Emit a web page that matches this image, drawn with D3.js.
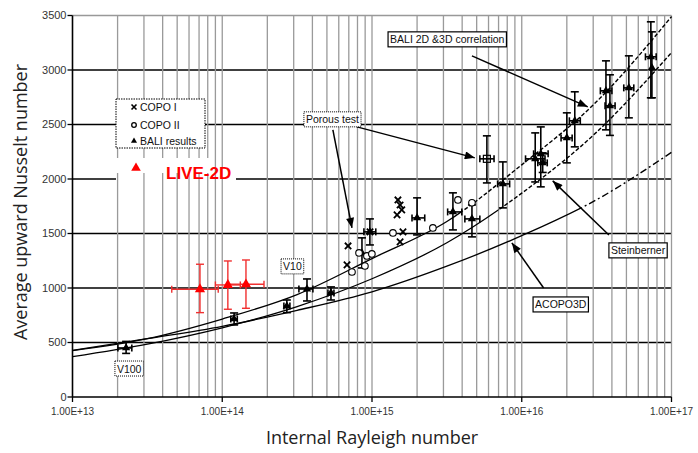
<!DOCTYPE html>
<html><head><meta charset="utf-8">
<script src="https://cdn.jsdelivr.net/npm/d3@7"></script>
<style>body{margin:0;background:#fff} svg{display:block}</style>
</head><body><svg id="c" width="698" height="453"></svg>
<script>
// ---------- data ----------
const xTickValues = [1e13, 1e14, 1e15, 1e16, 1e17];
const xTickLabels = ["1.00E+13", "1.00E+14", "1.00E+15", "1.00E+16", "1.00E+17"];
const yTickValues = [0, 500, 1000, 1500, 2000, 2500, 3000, 3500];

// correlation curves (Ra sampled at half decades)
const curveRa = [1e13, 3.162e13, 1e14, 3.162e14, 1e15, 3.162e15, 1e16, 3.162e16, 1e17];
const baliCorrNu = [425, 535, 715, 940, 1270, 1610, 2130, 2710, 3490];
const steinbernerNu = [370, 485, 635, 830, 1085, 1415, 1870, 2430, 3160];
const acopoNu = [427, 535, 648, 795, 965, 1200, 1480, 1810, 2245];
const baliCorrDashFrom = 4e15, steinDashFrom = 7e15, acopoDashFrom = 2.5e16;

// BALI results (triangles with error bars)
const baliRa   = [2.28e13, 1.20e14, 2.70e14, 3.68e14, 5.32e14, 9.68e14, 8.57e14, 2.0e15, 3.47e15, 4.65e15, 7.48e15, 1.23e16, 1.34e16, 1.38e16, 2.0e16, 2.26e16, 3.65e16, 3.88e16, 5.19e16, 7.28e16, 7.4e16];
const baliRaLo = [2.01e13, 1.14e14, 2.58e14, 3.25e14, 5.08e14, 8.83e14, 8.57e14, 1.85e15, 3.2e15, 4.17e15, 6.9e15, 1.06e16, 1.2e16, 1.28e16, 1.83e16, 2.08e16, 3.35e16, 3.6e16, 4.8e16, 6.7e16, 7.4e16];
const baliRaHi = [2.49e13, 1.26e14, 2.83e14, 4.03e14, 5.57e14, 1.06e15, 8.57e14, 2.25e15, 3.98e15, 5.25e15, 8.3e15, 1.43e16, 1.5e16, 1.48e16, 2.17e16, 2.46e16, 4.0e16, 4.2e16, 5.6e16, 7.9e16, 7.4e16];
const baliNu   = [450, 716, 835, 991, 955, 1515, 1320, 1643, 1698, 1634, 1955, 2185, 2231, 2148, 2377, 2534, 2809, 2671, 2836, 3121, 3020];
const baliNuLo = [400, 661, 774, 881, 890, 1395, 1184, 1487, 1533, 1469, 1735, 1973, 1928, 2060, 2148, 2295, 2451, 2400, 2561, 2745, 2745];
const baliNuHi = [510, 771, 890, 1083, 1010, 1634, 1460, 1827, 1873, 1762, 2157, 2423, 2478, 2240, 2607, 2800, 3084, 2956, 3130, 3442, 3350];

// porous test point
const porousRa = [5.85e15], porousRaLo = [5.25e15], porousRaHi = [6.53e15];
const porousNu = [2185], porousNuLo = [1964], porousNuHi = [2396];

// COPO I (x marks) and COPO II (circles)
const copo1Ra = [6.92e14, 6.81e14, 1.49e15, 1.54e15, 1.58e15, 1.47e15, 1.61e15, 1.54e15, 9.7e14];
const copo1Nu = [1386, 1212, 1808, 1762, 1717, 1671, 1515, 1423, 1515];
const copo2Ra = [1.38e15, 2.55e15, 3.75e15, 4.65e15, 8.19e14, 9.25e14, 9.98e14, 8.97e14, 7.35e14];
const copo2Nu = [1505, 1551, 1808, 1781, 1322, 1294, 1313, 1202, 1147];

// LIVE-2D (red)
const liveRa   = [7.1e13, 1.09e14, 1.44e14];
const liveRaLo = [4.6e13, 9.0e13, 1.1e14];
const liveRaHi = [9.4e13, 1.32e14, 1.9e14];
const liveNu   = [989, 1028, 1034];
const liveNuLo = [774, 805, 814];
const liveNuHi = [1218, 1248, 1257];

// annotation labels (anchored at data coordinates: top-left of box)
const labelTexts = ["BALI 2D &3D correlation", "Porous test", "V10", "V100", "Steinberner", "ACOPO3D"];
const labelRa = [1.28e15, 3.51e14, 2.47e14, 1.92e13, 3.82e16, 1.19e16];
const labelNu = [3350, 2616, 1267, 330, 1414, 918];
const labelDotted = [false, true, true, true, false, false];
// arrows [from, to]
const arrowRa1 = [4.65e15, 7.93e14, 5.48e14, 3.82e16, 1.40e16];
const arrowNu1 = [3130, 2478, 2451, 1487, 1000];
const arrowRa2 = [2.76e16, 4.86e15, 7.35e14, 1.61e16, 8.59e15];
const arrowNu2 = [2662, 2194, 1551, 1983, 1414];

const legendLabels = ["COPO I", "COPO II", "BALI results"];

// ---------- drawing ----------
const svg = d3.select('#c');
const x = d3.scaleLog().domain([1e13, 1e17]).range([72.5, 671.5]);
const y = d3.scaleLinear().domain([0, 3500]).range([397, 15.5]);
const FONT = "'Liberation Sans', Arial, sans-serif";

svg.append('rect').attr('width', 698).attr('height', 453).attr('fill', '#fff');

const defs = svg.append('defs');
defs.append('marker').attr('id', 'ah').attr('viewBox', '0 0 10 8')
  .attr('refX', 10).attr('refY', 4).attr('markerWidth', 11).attr('markerHeight', 8)
  .attr('markerUnits', 'userSpaceOnUse').attr('orient', 'auto')
  .append('path').attr('d', 'M0,0L10,4L0,8Z').attr('fill', '#000');

const g = svg.append('g');

// horizontal grid
g.selectAll('.hg').data(yTickValues.filter(v => v > 0)).join('line')
  .attr('x1', x(1e13)).attr('x2', x(1e17)).attr('y1', d => y(d)).attr('y2', d => y(d))
  .attr('stroke', d => d === 3500 ? '#999' : '#000').attr('stroke-width', d => d === 3500 ? 1.3 : 1.6);

// mask behind LIVE-2D label (hides the 2000 line)
g.append('rect').attr('x', 116).attr('y', 175).attr('width', 120).attr('height', 8).attr('fill', '#fff');

// vertical grid (log minor)
const vg = x.ticks().filter(v => v > 1.0001e13);
g.selectAll('.vg').data(vg).join('line')
  .attr('x1', d => x(d)).attr('x2', d => x(d)).attr('y1', y(3500)).attr('y2', y(0))
  .attr('stroke', '#9a9a9a').attr('stroke-width', 1.3);

// white area under legend
g.append('rect').attr('x', 116).attr('y', 158).attr('width', 96).attr('height', 15).attr('fill', '#fff');

// axes
g.append('line').attr('x1', x(1e13)).attr('x2', x(1e13)).attr('y1', y(3500)).attr('y2', y(0)).attr('stroke', '#000').attr('stroke-width', 1.6);
g.append('line').attr('x1', x(1e13)).attr('x2', x(1e17)).attr('y1', y(0)).attr('y2', y(0)).attr('stroke', '#000').attr('stroke-width', 1.6);
g.selectAll('.yt').data(yTickValues).join('line')
  .attr('x1', x(1e13) - 5).attr('x2', x(1e13)).attr('y1', d => y(d)).attr('y2', d => y(d)).attr('stroke', '#000').attr('stroke-width', 1.3);
g.selectAll('.ytl').data(yTickValues).join('text')
  .attr('x', x(1e13) - 6).attr('y', d => y(d)).attr('dy', '0.35em').attr('text-anchor', 'end')
  .attr('font-family', FONT).attr('font-size', 11).attr('fill', '#333').text(d => d);
g.selectAll('.xt').data(xTickValues).join('line')
  .attr('x1', d => x(d)).attr('x2', d => x(d)).attr('y1', y(0)).attr('y2', y(0) + 5).attr('stroke', '#000').attr('stroke-width', 1.3);
g.selectAll('.xtl').data(xTickValues).join('text')
  .attr('x', d => x(d)).attr('y', 415).attr('text-anchor', 'middle')
  .attr('font-family', FONT).attr('font-size', 10).attr('fill', '#333').text((d, i) => xTickLabels[i]);

// titles
svg.append('text').attr('x', 372).attr('y', 444).attr('text-anchor', 'middle')
  .attr('font-family', "'Open Sans', 'Noto Sans', sans-serif").attr('font-size', 18).attr('fill', '#222')
  .text('Internal Rayleigh number');
svg.append('text').attr('transform', 'translate(27,202) rotate(-90)').attr('text-anchor', 'middle')
  .attr('font-family', "'Open Sans', 'Noto Sans', sans-serif").attr('font-size', 18).attr('fill', '#222')
  .text('Average upward Nusselt number');

// curves
const line = d3.line().x(d => x(d[0])).y(d => y(d[1])).curve(d3.curveMonotoneX);
function drawCurve(nu, dashFrom, dash, id) {
  const pts = curveRa.map((r, i) => [r, nu[i]]);
  const xc = x(dashFrom);
  defs.append('clipPath').attr('id', 's' + id).append('rect').attr('x', 0).attr('y', 0).attr('width', xc).attr('height', 453);
  defs.append('clipPath').attr('id', 'd' + id).append('rect').attr('x', xc).attr('y', 0).attr('width', 698 - xc).attr('height', 453);
  g.append('path').attr('d', line(pts)).attr('fill', 'none').attr('stroke', '#000').attr('stroke-width', 1.3).attr('clip-path', `url(#s${id})`);
  g.append('path').attr('d', line(pts)).attr('fill', 'none').attr('stroke', '#000').attr('stroke-width', 1.4)
    .attr('stroke-dasharray', dash).attr('clip-path', `url(#d${id})`);
}
drawCurve(baliCorrNu, baliCorrDashFrom, '4,2', 'b');
drawCurve(steinbernerNu, steinDashFrom, '4,2', 'st');
drawCurve(acopoNu, acopoDashFrom, '7,3,2,3', 'ac');

// error bar helper
function errorBars(ra, raLo, raHi, nu, nuLo, nuHi, color, w) {
  ra.forEach((r, i) => {
    const cx = x(r), cy = y(nu[i]);
    const e = g.append('g').attr('stroke', color).attr('stroke-width', w);
    if (nuLo[i] !== nuHi[i]) {
      e.append('line').attr('x1', cx).attr('x2', cx).attr('y1', y(nuLo[i])).attr('y2', y(nuHi[i]));
      e.append('line').attr('x1', cx - 4).attr('x2', cx + 4).attr('y1', y(nuLo[i])).attr('y2', y(nuLo[i]));
      e.append('line').attr('x1', cx - 4).attr('x2', cx + 4).attr('y1', y(nuHi[i])).attr('y2', y(nuHi[i]));
    }
    if (raLo[i] !== raHi[i]) {
      e.append('line').attr('x1', x(raLo[i])).attr('x2', x(raHi[i])).attr('y1', cy).attr('y2', cy);
      e.append('line').attr('x1', x(raLo[i])).attr('x2', x(raLo[i])).attr('y1', cy - 3.5).attr('y2', cy + 3.5);
      e.append('line').attr('x1', x(raHi[i])).attr('x2', x(raHi[i])).attr('y1', cy - 3.5).attr('y2', cy + 3.5);
    }
  });
}
const tri = d3.symbol().type(d3.symbolTriangle).size(30);

errorBars(baliRa, baliRaLo, baliRaHi, baliNu, baliNuLo, baliNuHi, '#000', 1.6);
g.selectAll('.bali').data(baliRa).join('path')
  .attr('d', tri).attr('transform', (d, i) => `translate(${x(d)},${y(baliNu[i])})`).attr('fill', '#000');

errorBars(porousRa, porousRaLo, porousRaHi, porousNu, porousNuLo, porousNuHi, '#000', 1.6);
g.selectAll('.por').data(porousRa).join('rect')
  .attr('x', d => x(d) - 3.5).attr('y', (d, i) => y(porousNu[i]) - 3.5).attr('width', 7).attr('height', 7)
  .attr('fill', 'none').attr('stroke', '#000').attr('stroke-width', 1.2);

// COPO I x markers
const xm = d3.symbol().type(d3.symbolTimes).size(28);
g.selectAll('.c1').data(copo1Ra).join('path')
  .attr('d', xm).attr('transform', (d, i) => `translate(${x(d)},${y(copo1Nu[i])})`)
  .attr('fill', 'none').attr('stroke', '#000').attr('stroke-width', 1.8);
// COPO II circles
g.selectAll('.c2').data(copo2Ra).join('circle')
  .attr('cx', d => x(d)).attr('cy', (d, i) => y(copo2Nu[i])).attr('r', 3.3)
  .attr('fill', '#fff').attr('stroke', '#000').attr('stroke-width', 1.1);

// LIVE-2D
errorBars(liveRa, liveRaLo, liveRaHi, liveNu, liveNuLo, liveNuHi, '#f03030', 1.4);
g.selectAll('.live').data(liveRa).join('path')
  .attr('d', d3.symbol().type(d3.symbolTriangle).size(45))
  .attr('transform', (d, i) => `translate(${x(d)},${y(liveNu[i])})`).attr('fill', '#ff0000');

// arrows
g.selectAll('.arr').data(arrowRa1).join('line')
  .attr('x1', d => x(d)).attr('y1', (d, i) => y(arrowNu1[i]))
  .attr('x2', (d, i) => x(arrowRa2[i])).attr('y2', (d, i) => y(arrowNu2[i]))
  .attr('stroke', '#000').attr('stroke-width', 1.5).attr('marker-end', 'url(#ah)');

// annotation boxes
labelTexts.forEach((t, i) => {
  const bx = x(labelRa[i]), by = y(labelNu[i]);
  const lg = g.append('g');
  const r = lg.append('rect');
  const tx = lg.append('text').attr('x', bx + 2).attr('y', by + 11.5)
    .attr('font-family', FONT).attr('font-size', 10.5).attr('fill', '#111').text(t);
  const w = tx.node().getComputedTextLength() + 4;
  r.attr('x', bx).attr('y', by).attr('width', w).attr('height', 15).attr('fill', '#fff')
    .attr('stroke', '#000').attr('stroke-width', labelDotted[i] ? 1 : 1.2)
    .attr('stroke-dasharray', labelDotted[i] ? '1,1' : null);
});

// legend
const leg = g.append('g');
leg.append('rect').attr('x', 116).attr('y', 99).attr('width', 89).attr('height', 49)
  .attr('fill', '#fff').attr('stroke', '#000').attr('stroke-width', 1).attr('stroke-dasharray', '1.5,1');
const ly = [107, 125, 141];
leg.append('path').attr('d', d3.symbol().type(d3.symbolTimes).size(18)).attr('transform', `translate(134,${ly[0]})`)
  .attr('stroke', '#000').attr('stroke-width', 1.6).attr('fill', 'none');
leg.append('circle').attr('cx', 134).attr('cy', ly[1]).attr('r', 2.3).attr('fill', '#fff').attr('stroke', '#000').attr('stroke-width', 1.3);
leg.append('path').attr('d', d3.symbol().type(d3.symbolTriangle).size(16)).attr('transform', `translate(134,${ly[2]})`).attr('fill', '#000');
leg.selectAll('.lt').data(legendLabels).join('text')
  .attr('x', 140).attr('y', (d, i) => ly[i]).attr('dy', '0.35em')
  .attr('font-family', FONT).attr('font-size', 10.5).attr('fill', '#111').text(d => d);

// LIVE-2D legend entry
g.append('path').attr('d', d3.symbol().type(d3.symbolTriangle).size(40)).attr('transform', 'translate(136,168)').attr('fill', '#ff0000');
g.append('text').attr('x', 166).attr('y', 179).attr('font-family', FONT).attr('font-weight', 'bold')
  .attr('font-size', 17).attr('fill', '#ff0000').text('LIVE-2D');
</script></body></html>
